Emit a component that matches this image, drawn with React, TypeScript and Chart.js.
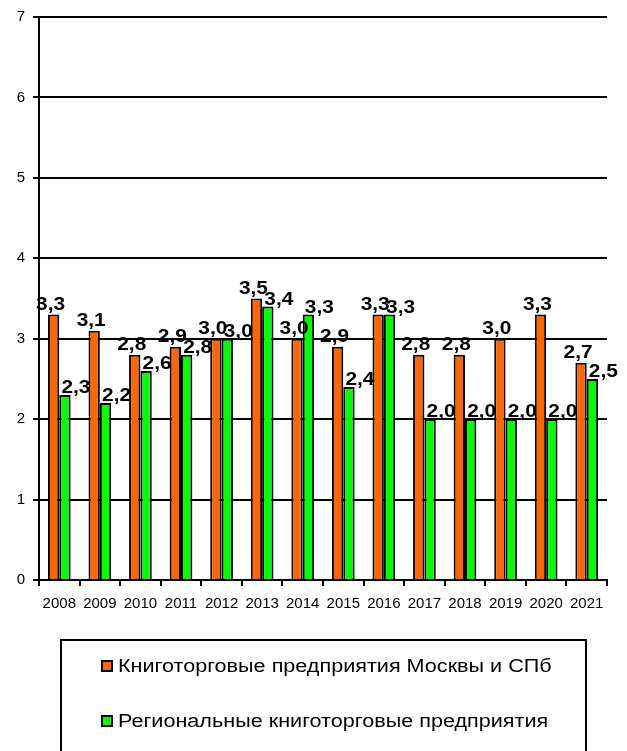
import React, { useEffect, useRef } from "react";
import { Chart, registerables } from "chart.js";

Chart.register(...registerables);

const years = ["2008", "2009", "2010", "2011", "2012", "2013", "2014", "2015", "2016", "2017", "2018", "2019", "2020", "2021"];
const moscowSpb = [3.3, 3.1, 2.8, 2.9, 3.0, 3.5, 3.0, 2.9, 3.3, 2.8, 2.8, 3.0, 3.3, 2.7];
const regional = [2.3, 2.2, 2.6, 2.8, 3.0, 3.4, 3.3, 2.4, 3.3, 2.0, 2.0, 2.0, 2.0, 2.5];
const seriesNames = ["Книготорговые предприятия Москвы и СПб", "Региональные книготорговые предприятия"];
const yTicks = [0, 1, 2, 3, 4, 5, 6, 7];

const FONT = "'Liberation Sans', Arial, sans-serif";
const LEGEND_STRETCH = 1.2;
const LABEL_STRETCH = 1.1;

const labelPlugin = {
  id: "valueLabels",
  afterDatasetsDraw(chart: any) {
    const ctx = chart.ctx;
    chart.data.datasets.forEach((ds: any, di: number) => {
      const meta = chart.getDatasetMeta(di);
      meta.data.forEach((bar: any, i: number) => {
        const v = ds.data[i] as number;
        const txt = v.toFixed(1).replace(".", ",");
        const dx = di === 0 ? -3 : 11;
        const dy = di === 0 ? 5 : 2;
        ctx.save();
        ctx.translate(bar.x + dx, bar.y - dy);
        ctx.scale(LABEL_STRETCH, 1);
        ctx.font = `bold 19px ${FONT}`;
        ctx.fillStyle = "#000";
        ctx.textBaseline = "alphabetic";
        ctx.textAlign = "center";
        ctx.fillText(txt, 0, 0);
        ctx.restore();
      });
    });
  },
};

const legendPlugin = {
  id: "boxLegend",
  afterDraw(chart: any) {
    const ctx = chart.ctx;
    ctx.save();
    ctx.strokeStyle = "#000";
    ctx.lineWidth = 2;
    ctx.beginPath();
    ctx.moveTo(61, 800);
    ctx.lineTo(61, 640);
    ctx.lineTo(586, 640);
    ctx.lineTo(586, 800);
    ctx.stroke();
    chart.data.datasets.forEach((ds: any, di: number) => {
      const cy = 666 + di * 55;
      ctx.fillStyle = ds.backgroundColor;
      ctx.fillRect(102, cy - 5, 10, 10);
      ctx.lineWidth = 2;
      ctx.strokeStyle = "#000";
      ctx.strokeRect(102, cy - 5, 10, 10);
      ctx.save();
      ctx.translate(118, cy + 1);
      ctx.scale(LEGEND_STRETCH, 1);
      ctx.font = `18px ${FONT}`;
      ctx.textBaseline = "middle";
      ctx.textAlign = "left";
      ctx.fillStyle = "#000";
      ctx.fillText(ds.label, 0, 0);
      ctx.restore();
    });
    ctx.restore();
  },
};

export default function App() {
  const ref = useRef<HTMLCanvasElement>(null);
  useEffect(() => {
    if (!ref.current) return;
    const chart = new Chart(ref.current, {
      type: "bar",
      data: {
        labels: years,
        datasets: [
          {
            label: seriesNames[0],
            data: moscowSpb,
            backgroundColor: "#FF6600",
            borderColor: "#000",
            borderWidth: 2,
            categoryPercentage: 0.56,
            barPercentage: 1,
          },
          {
            label: seriesNames[1],
            data: regional,
            backgroundColor: "#00FF00",
            borderColor: "#000",
            borderWidth: 2,
            categoryPercentage: 0.56,
            barPercentage: 1,
          },
        ],
      },
      options: {
        animation: false,
        responsive: false,
        maintainAspectRatio: false,
        layout: { padding: { top: 16, right: 20, bottom: 131, left: 0 } },
        plugins: { legend: { display: false }, tooltip: { enabled: false } },
        scales: {
          x: {
            grid: { display: true, drawOnChartArea: false, drawTicks: true, tickLength: 6, color: "#000", lineWidth: 2, offset: true },
            border: { display: true, color: "#000", width: 2 },
            ticks: { color: "#000", font: { family: FONT, size: 15 }, padding: 9, maxRotation: 0, autoSkip: false },
            afterFit: (s: any) => { s.height = 40; },
          },
          y: {
            min: 0,
            max: 7,
            afterBuildTicks: (s: any) => { s.ticks = yTicks.map((v) => ({ value: v })); },
            grid: { color: "#000", lineWidth: 2, tickLength: 6, drawTicks: true },
            border: { display: true, color: "#000", width: 2 },
            ticks: { color: "#000", font: { family: FONT, size: 15 }, padding: 8 },
            afterFit: (s: any) => { s.width = 39; },
          },
        },
      },
      plugins: [labelPlugin, legendPlugin],
    });
    return () => chart.destroy();
  }, []);
  return (
    <div style={{ position: "fixed", left: 0, top: 0, width: 627, height: 751, overflow: "hidden", background: "#fff" }}>
      <canvas ref={ref} width={627} height={751} style={{ display: "block" }} />
    </div>
  );
}
